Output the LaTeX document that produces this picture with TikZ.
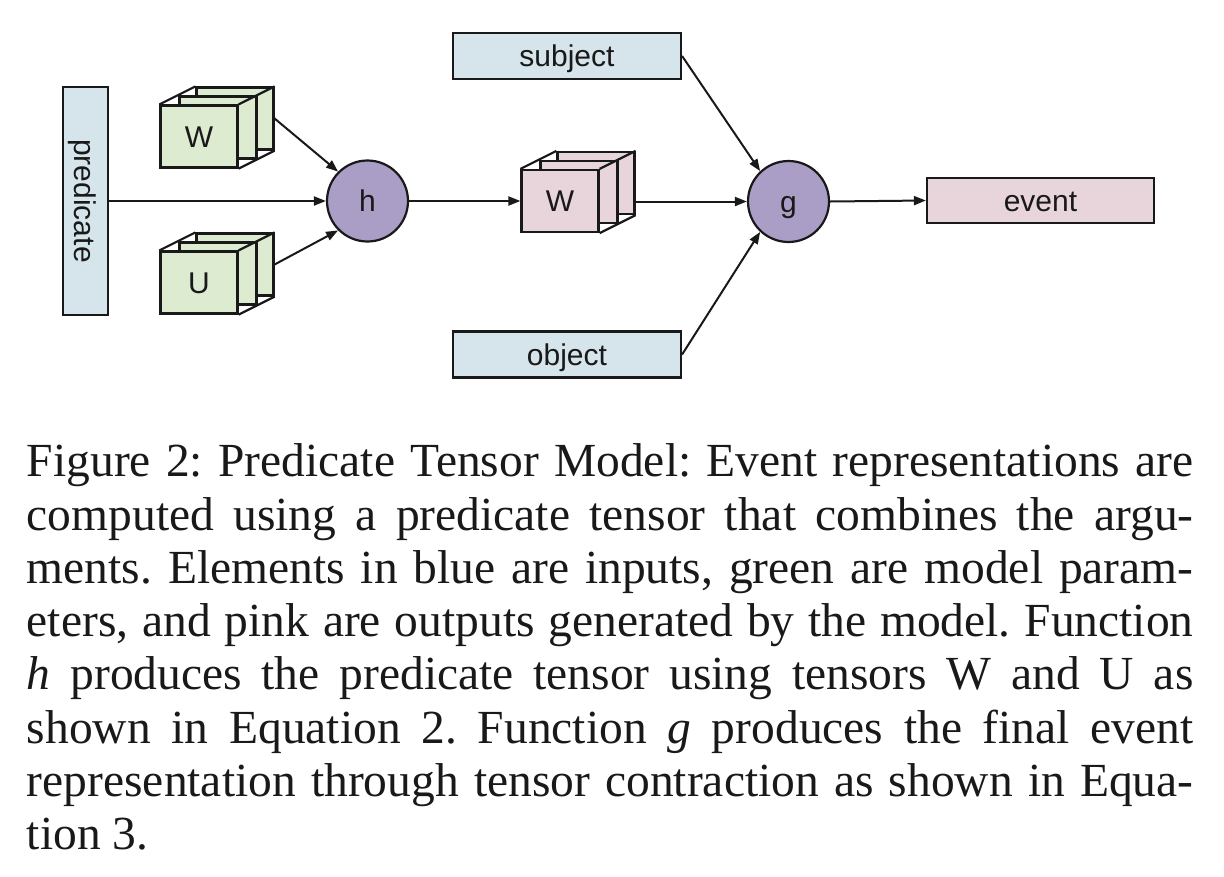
\documentclass[tikz,border=0pt]{standalone}
\usepackage{fontspec}
\setmainfont{Liberation Serif}
\newfontfamily\diagfont{Liberation Sans}
\usetikzlibrary{arrows.meta}
\definecolor{inblue}{RGB}{214,228,236}
\definecolor{pargreen}{RGB}{221,235,209}
\definecolor{outpink}{RGB}{232,213,220}
\definecolor{fnpurple}{RGB}{170,158,198}
\definecolor{edgecol}{RGB}{25,25,25}
\definecolor{textcol}{RGB}{25,25,25}
\tikzset{
  lbl/.style={font=\diagfont\fontsize{30}{36}\selectfont, text=textcol, text height=21.5pt, text depth=0pt},
  inbox/.style={lbl, draw=edgecol, line width=2.2pt, fill=inblue, inner sep=0pt, minimum width=228pt, minimum height=46pt},
  outbox/.style={lbl, draw=edgecol, line width=2.2pt, fill=outpink, inner sep=0pt, minimum width=227pt, minimum height=45pt},
  fnnode/.style={lbl, circle, draw=edgecol, line width=2.2pt, fill=fnpurple, inner sep=0pt, minimum size=81pt},
  face/.style={lbl, draw=edgecol, line width=2.2pt, inner sep=0pt, minimum width=77pt, minimum height=62pt},
  edge/.style={line width=2pt, draw=edgecol},
  arr/.style={edge, -{Triangle[length=12pt,width=9pt]}},
}
\newcommand{\tensorcube}[5]{%
  % #1 name, #2 x, #3 y (front centre), #4 fill, #5 label
  \node[face, fill=#4] (#1b) at (#2+36,#3-18) {};
  \node[face, fill=#4] (#1m) at (#2+19,#3-9) {};
  \node[face, fill=#4] (#1) at (#2,#3) {#5};
  \draw[edge, line width=2.2pt] (#1.north west) -- (#1b.north west)
              (#1.north east) -- (#1b.north east)
              (#1.south east) -- (#1b.south east);
}
\begin{document}
\begin{tikzpicture}[x=1pt,y=-1pt]
\useasboundingbox (0,0) rectangle (1224,876);

% inputs
\node[inbox, minimum width=45pt, minimum height=228pt] (pred) at (85.5,201) {};
\node[lbl, rotate=-90] (predtxt) at (pred.center) {predicate};
\node[inbox] (subj) at (567,56) {subject};
\node[inbox] (obj) at (567,354.5) {object};

% parameters and predicate tensor
\tensorcube{wg}{199}{136.5}{pargreen}{W}
\tensorcube{ug}{199}{282.5}{pargreen}{U}
\tensorcube{wp}{560}{201}{outpink}{W}

% functions
\node[fnnode] (h) at (367.5,201) {h};
\node[fnnode] (g) at (788.5,201.5) {g};

% output
\node[outbox] (event) at (1040.5,200.5) {event};

% connectors
\draw[arr] (pred.east |- h.west) -- (h.west);
\draw[arr] (wgb.east) -- (h.135);
\draw[arr] (ugb.east) -- (h.225);
\draw[arr] (h.east) -- (wp.west);
\draw[arr] (wpb.east |- g.west) -- (g.west);
\draw[arr] (subj.east) -- (g.133);
\draw[arr] (obj.east) -- (g.227);
\draw[arr] (g.east) -- (event.west);

% caption
\node[anchor=base west, inner sep=0pt, text=textcol] (caption) at (26.7,476.7) {%
\parbox[t]{1166.6pt}{\fontsize{47.5}{53.3}\selectfont\frenchspacing
\makebox[\linewidth][s]{Figure 2: Predicate Tensor Model: Event representations are}\par
\makebox[\linewidth][s]{computed using a predicate tensor that combines the argu-}\par
\makebox[\linewidth][s]{ments. Elements in blue are inputs, green are model param-}\par
\makebox[\linewidth][s]{eters, and pink are outputs generated by the model. Function}\par
\makebox[\linewidth][s]{\textit{h} produces the predicate tensor using tensors W and U as}\par
\makebox[\linewidth][s]{shown in Equation 2. Function \textit{g} produces the final event}\par
\makebox[\linewidth][s]{representation through tensor contraction as shown in Equa-}\par
tion 3.}};
\end{tikzpicture}
\end{document}
